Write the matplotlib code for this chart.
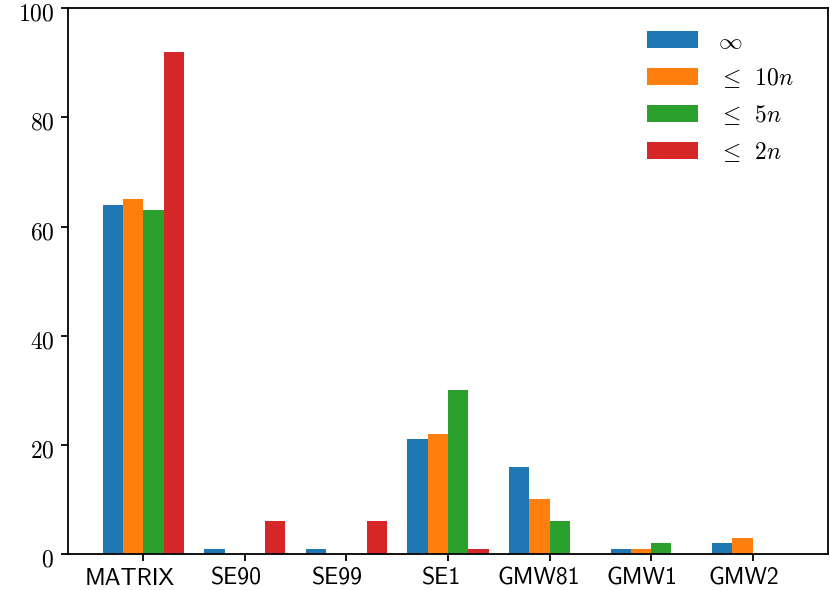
import numpy as np
import matplotlib
matplotlib.use("Agg")
import matplotlib.pyplot as plt
from matplotlib.transforms import ScaledTranslation

plt.rcParams['mathtext.fontset'] = 'cm'
plt.rcParams['font.size'] = 17
plt.rcParams['axes.linewidth'] = 1.3
plt.rcParams['xtick.major.width'] = 1.3
plt.rcParams['ytick.major.width'] = 1.3
plt.rcParams['xtick.major.size'] = 5
plt.rcParams['ytick.major.size'] = 5

categories = ["MATRIX", "SE90", "SE99", "SE1", "GMW81", "GMW1", "GMW2"]
series_labels = [r"$\infty$", r"$\leq\enspace10n$", r"$\leq\enspace5n$", r"$\leq\enspace2n$"]
vals_inf = [64, 1, 1, 21, 16, 1, 2]
vals_10n = [65, 0, 0, 22, 10, 1, 3]
vals_5n = [63, 0, 0, 30, 6, 2, 0]
vals_2n = [92, 6, 6, 1, 0, 0, 0]
yticks = [0, 20, 40, 60, 80, 100]

colors = ["#1f77b4", "#ff7f0e", "#2ca02c", "#d62728"]
series = [vals_inf, vals_10n, vals_5n, vals_2n]

fig = plt.figure(figsize=(8.3, 5.9), dpi=100)
ax = fig.add_axes([0.082, 0.061, 0.9155, 0.925])
x = np.arange(len(categories))
w = 0.2
for k, (vals, lab, c) in enumerate(zip(series, series_labels, colors)):
    ax.bar(x + (k - 1.5) * w, vals, w, label=lab, color=c)

ax.set_ylim(0, 100)
ax.set_yticks(yticks)
ax.set_yticklabels(["$" + str(v) + r"\;" * len(str(v)) + "$" for v in yticks])
ax.set_xticks(x)
ax.set_xticklabels(categories, fontfamily="cmss10")
ax.tick_params(axis='y', pad=5.0)
ax.tick_params(axis='x', pad=5.0)

for lab in ax.get_xticklabels():
    n = len(lab.get_text())
    lab.set_transform(lab.get_transform() +
                      ScaledTranslation(-2.2 * n / 100, 0, fig.dpi_scale_trans))
for lab in ax.get_yticklabels():
    lab.set_transform(lab.get_transform() +
                      ScaledTranslation(0, -3 / 100, fig.dpi_scale_trans))

ax.legend(loc="upper left", bbox_to_anchor=(0.762, 0.962), frameon=False,
          handlelength=2.15, handleheight=0.72, handletextpad=0.85,
          labelspacing=0.55, borderaxespad=0, borderpad=0)

fig.savefig("out.png", dpi=100)
